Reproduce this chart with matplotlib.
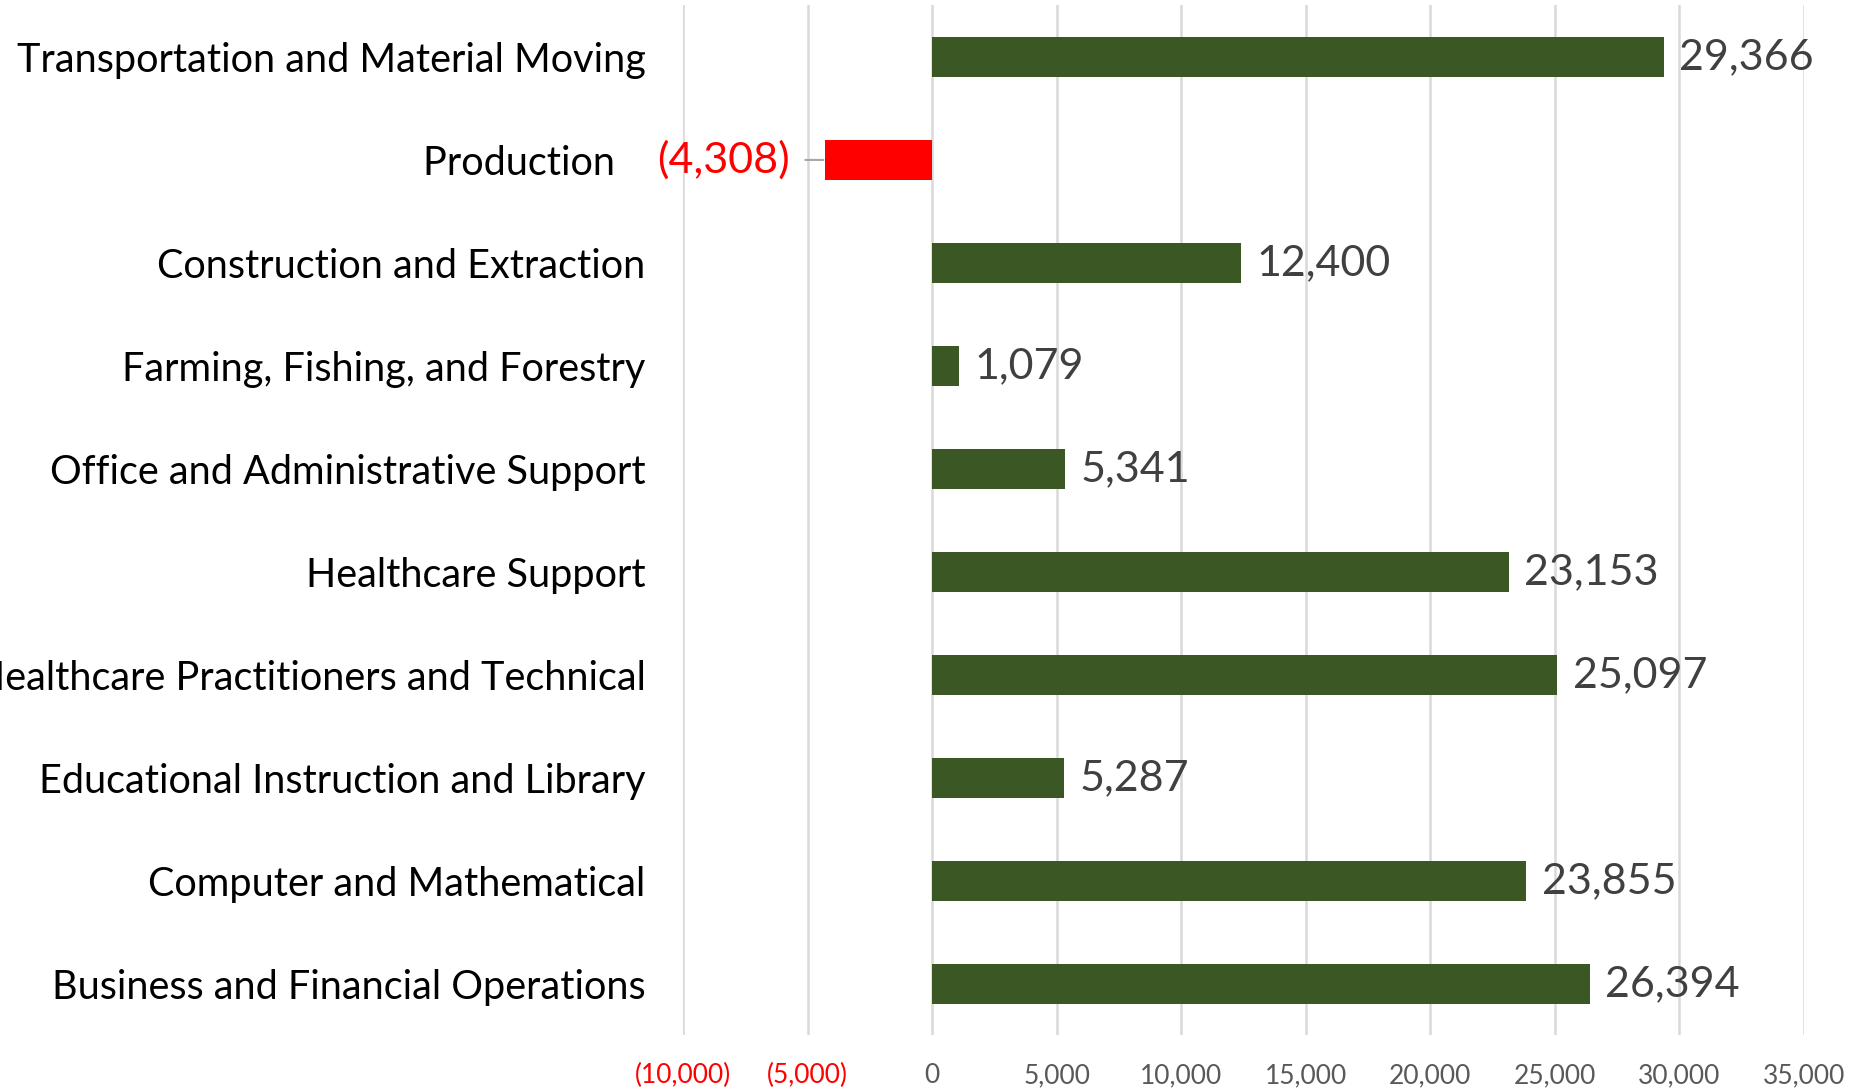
import numpy as np
import matplotlib.pyplot as plt
from matplotlib.ticker import FuncFormatter

plt.rcParams['font.family'] = ['Lato', 'DejaVu Sans']

categories = [
    "Transportation and Material Moving",
    "Production",
    "Construction and Extraction",
    "Farming, Fishing, and Forestry",
    "Office and Administrative Support",
    "Healthcare Support",
    "Healthcare Practitioners and Technical",
    "Educational Instruction and Library",
    "Computer and Mathematical",
    "Business and Financial Operations",
]
values = [29366, -4308, 12400, 1079, 5341, 23153, 25097, 5287, 23855, 26394]
xticks = [-10000, -5000, 0, 5000, 10000, 15000, 20000, 25000, 30000, 35000]

green = "#3B5724"
red = "#FF0000"


def fmt(v):
    if v < 0:
        return "({:,.0f})".format(-v)
    return "{:,.0f}".format(v)


fig = plt.figure(figsize=(18.56, 10.91), dpi=100)
ax = fig.add_axes([0.368, 0.051, 0.604, 0.944])

y = np.arange(len(categories))
colors = [red if v < 0 else green for v in values]
ax.barh(y, values, height=0.39, color=colors, zorder=3)

ax.set_xlim(-10000, 35000)
ax.set_ylim(len(categories) - 0.5, -0.5)
ax.set_xticks(xticks)
ax.xaxis.set_major_formatter(FuncFormatter(lambda v, p: fmt(v)))
ax.grid(axis='x', color='#d9d9d9', linewidth=1.8, zorder=0)
for s in ax.spines.values():
    s.set_visible(False)
ax.tick_params(axis='x', length=0, pad=20, labelsize=19, labelcolor='#595959')
for lab, v in zip(ax.get_xticklabels(), xticks):
    if v < 0:
        lab.set_color(red)

ax.set_yticks(y)
ax.set_yticklabels([c + ("   " if c == "Production" else "") for c in categories])
ax.tick_params(axis='y', length=0, pad=27, labelsize=28.5, labelcolor='black')

# value labels
for yi, v in zip(y, values):
    if v >= 0:
        ax.annotate(fmt(v), (v, yi), xytext=(11, 0), textcoords='offset points',
                    va='center', ha='left', fontsize=31, color='#404040')
    else:
        ax.annotate(fmt(v), (v, yi), xytext=(-25, 0), textcoords='offset points',
                    va='center', ha='right', fontsize=31, color=red,
                    arrowprops=dict(arrowstyle='-', color='#a6a6a6', lw=1.5,
                                    shrinkA=9, shrinkB=1))

fig.savefig("out.png", dpi=100)
